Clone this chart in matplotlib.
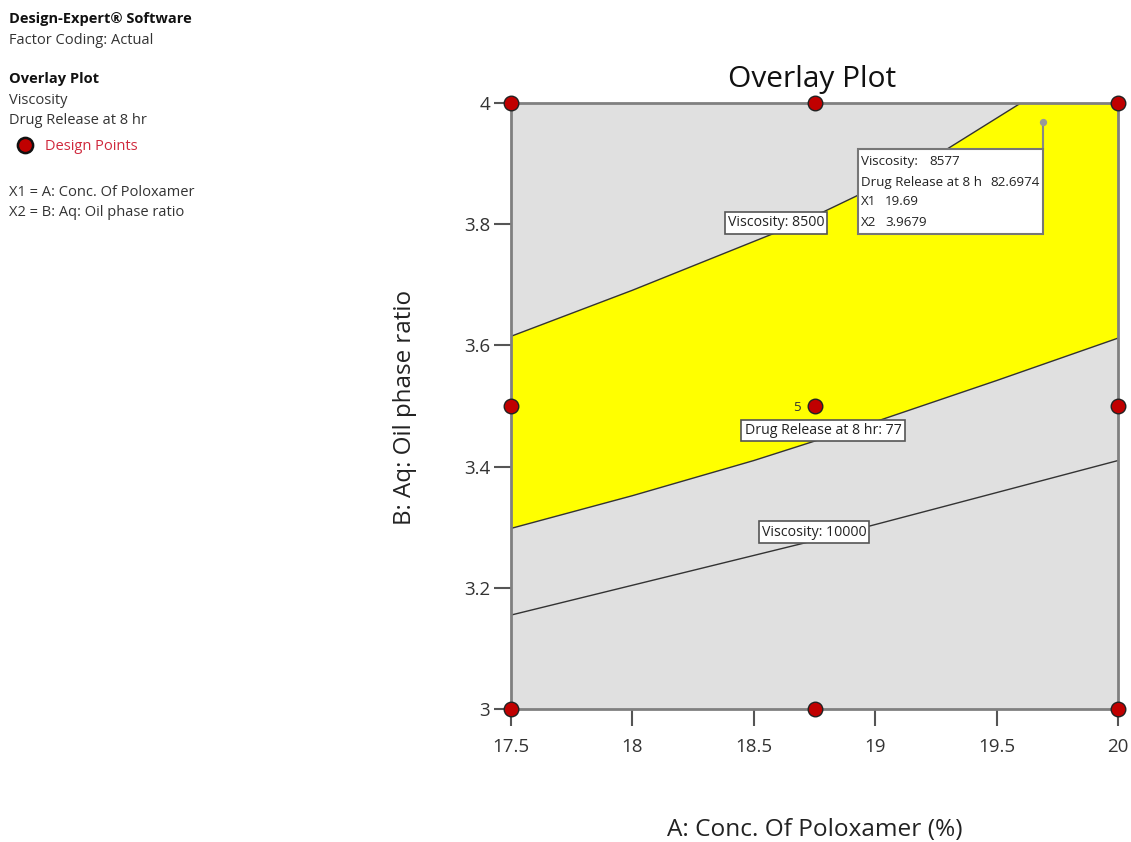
import numpy as np
import matplotlib
matplotlib.use("Agg")
import matplotlib.pyplot as plt
from matplotlib.patches import Rectangle

plt.rcParams['font.family'] = ['Open Sans', 'DejaVu Sans']

# ---- data ----
visc8500_x = [17.5, 18.0, 18.59, 18.79, 18.92, 19.30, 19.60]
visc8500_y = [3.615, 3.691, 3.786, 3.821, 3.846, 3.925, 4.0]

dr77_x = [17.5, 18.0, 18.5, 19.0, 19.5, 20.0]
dr77_y = [3.298, 3.352, 3.410, 3.474, 3.542, 3.612]

visc10000_x = [17.5, 18.75, 19.31, 20.0]
visc10000_y = [3.155, 3.278, 3.337, 3.410]

design_x = [17.5, 17.5, 17.5, 18.75, 18.75, 18.75, 20.0, 20.0, 20.0]
design_y = [3.0, 3.5, 4.0, 3.0, 3.5, 4.0, 3.0, 3.5, 4.0]

flag_x, flag_y = 19.69, 3.9679
flag_labels = ["Viscosity:", "Drug Release at 8 h", "X1", "X2"]
flag_values = ["8577", "82.6974", "19.69", "3.9679"]

x_ticks = [17.5, 18, 18.5, 19, 19.5, 20]
x_ticklabels = ["17.5", "18", "18.5", "19", "19.5", "20"]
y_ticks = [3, 3.2, 3.4, 3.6, 3.8, 4]
y_ticklabels = ["3", "3.2", "3.4", "3.6", "3.8", "4"]

W, H = 1131, 842
fig = plt.figure(figsize=(W / 100, H / 100), dpi=100)

def fx(px):
    return px / W

def fy(py):
    return 1 - py / H

ax = fig.add_axes([fx(511), fy(709), fx(1118) - fx(511), fy(103) - fy(709)])
ax.set_xlim(17.5, 20)
ax.set_ylim(3, 4)
ax.set_facecolor('#e0e0e0')

# yellow feasible region
poly_x = list(dr77_x) + [20.0, 20.0] + list(visc8500_x[::-1])
poly_y = list(dr77_y) + [4.0, 4.0] + list(visc8500_y[::-1])
ax.fill(poly_x, poly_y, color='#ffff00', zorder=1, lw=0)

lc = '#333333'
ax.plot(visc8500_x, visc8500_y, color=lc, lw=1.0, zorder=2)
ax.plot(dr77_x, dr77_y, color=lc, lw=1.0, zorder=2)
ax.plot(visc10000_x, visc10000_y, color=lc, lw=1.0, zorder=2)

for s in ax.spines.values():
    s.set_color('#808080')
    s.set_linewidth(2)

ax.set_xticks(x_ticks)
ax.set_xticklabels(x_ticklabels)
ax.set_yticks(y_ticks)
ax.set_yticklabels(y_ticklabels)
ax.tick_params(axis='both', colors='#555555', labelcolor='#333333', labelsize=13.5,
               length=12, width=1.5, direction='out')
ax.tick_params(axis='x', pad=9)
ax.tick_params(axis='y', pad=3)

# contour labels
cfs = 10.2
box = dict(boxstyle='square,pad=0.22', fc='white', ec='#555555', lw=1.2)
ax.text(18.591, 3.802, "Viscosity: 8500", fontsize=cfs, ha='center', va='center',
        color='#222222', bbox=box, zorder=5)
ax.text(18.785, 3.460, "Drug Release at 8 hr: 77", fontsize=cfs, ha='center', va='center',
        color='#222222', bbox=box, zorder=5)
ax.text(18.748, 3.292, "Viscosity: 10000", fontsize=cfs, ha='center', va='center',
        color='#222222', bbox=box, zorder=5)

# design points
ax.scatter(design_x, design_y, s=110, color='#c00000', edgecolors='#222222',
           linewidths=1.0, zorder=10, clip_on=False)
ax.text(18.678, 3.498, "5", fontsize=9.5, ha='center', va='center', color='#333333', zorder=6)

# flag
ax.plot([flag_x, flag_x], [flag_y, 3.9236], color='#888888', lw=1.5, zorder=6)
ax.scatter([flag_x], [flag_y], s=18, color='#999999', zorder=7)
ax.add_patch(Rectangle((18.928, 3.7838), 19.693 - 18.928, 3.9236 - 3.7838,
                       fc='white', ec='#777777', lw=1.5, zorder=6))
line_y = [3.904, 3.8696, 3.838, 3.8036]
val_x = [18.928 + (929 - 857.7) / 607 * 2.5, 18.928 + (990 - 857.7) / 607 * 2.5,
         18.928 + (885 - 857.7) / 607 * 2.5, 18.928 + (885 - 857.7) / 607 * 2.5]
ffs = 9.6
for lab, val, yy, vx in zip(flag_labels, flag_values, line_y, val_x):
    ax.text(18.943, yy, lab, fontsize=ffs, ha='left', va='center', color='#222222', zorder=8)
    ax.text(vx, yy, val, fontsize=ffs, ha='left', va='center', color='#222222', zorder=8)

# title and axis labels
fig.text(fx(812), fy(80), "Overlay Plot", fontsize=21.5, ha='center', va='center', color='#111111')
fig.text(fx(815), fy(830), "A: Conc. Of Poloxamer (%)", fontsize=17.6, ha='center', va='center',
         color='#222222')
fig.text(fx(405), fy(407), "B: Aq: Oil phase ratio", fontsize=17.4, ha='center', va='center',
         rotation=90, color='#222222')

# side annotations
tc = '#333333'
sfs = 10.5
fig.text(fx(9), fy(19), "Design-Expert® Software", fontsize=sfs, fontweight='bold',
         ha='left', va='center', color='#111111')
fig.text(fx(9), fy(40), "Factor Coding: Actual", fontsize=sfs, ha='left', va='center', color=tc)
fig.text(fx(9), fy(79), "Overlay Plot", fontsize=sfs, fontweight='bold', ha='left', va='center',
         color='#111111')
fig.text(fx(9), fy(100), "Viscosity", fontsize=sfs, ha='left', va='center', color=tc)
fig.text(fx(9), fy(120), "Drug Release at 8 hr", fontsize=sfs, ha='left', va='center', color=tc)
fig.text(fx(45), fy(146), "Design Points", fontsize=sfs, ha='left', va='center', color='#d0283c')
fig.text(fx(9), fy(193), "X1 = A: Conc. Of Poloxamer", fontsize=sfs, ha='left', va='center', color=tc)
fig.text(fx(9), fy(213), "X2 = B: Aq: Oil phase ratio", fontsize=sfs, ha='left', va='center', color=tc)
lax = fig.add_axes([0, 0, 1, 1], facecolor='none')
lax.set_xlim(0, W)
lax.set_ylim(H, 0)
lax.axis('off')
lax.scatter([25], [145], s=120, color='#c00000', edgecolors='#111111', linewidths=1.8)

fig.savefig("out.png", dpi=100)
